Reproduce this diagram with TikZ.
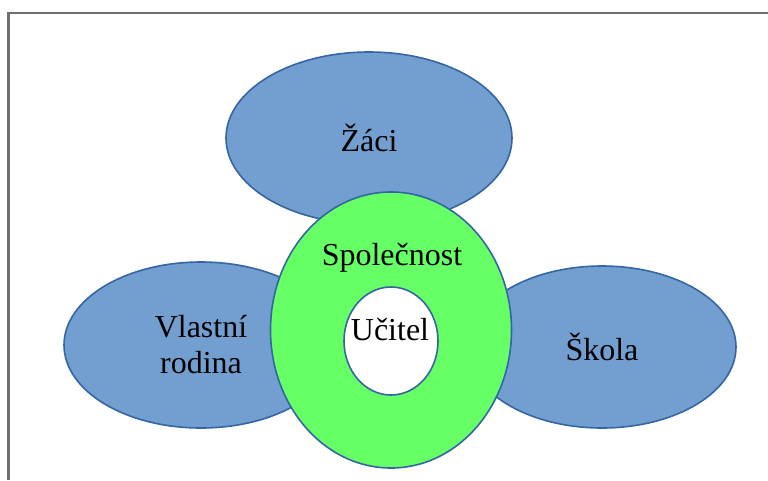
\documentclass[tikz,border=0pt]{standalone}
\usepackage{fontspec}
\setmainfont{Liberation Serif}
\usetikzlibrary{shapes.geometric}
\definecolor{bluefill}{RGB}{114,159,207}
\definecolor{blueedge}{RGB}{52,101,164}
\definecolor{greenfill}{RGB}{102,255,102}
\definecolor{framegray}{RGB}{110,110,110}
\tikzset{
  blob/.style={ellipse, draw=blueedge, line width=1.2pt, fill=bluefill, inner sep=0pt, font=\fontsize{24}{27}\selectfont, align=center},
  ring/.style={ellipse, draw=blueedge, line width=1.2pt, fill=greenfill, inner sep=0pt},
  hole/.style={ellipse, draw=blueedge, line width=1.2pt, fill=white, inner sep=0pt},
  lbl/.style={font=\fontsize{24}{27}\selectfont, inner sep=0pt}
}
\begin{document}
\begin{tikzpicture}[x=0.75pt,y=-0.75pt]
\useasboundingbox (0,0) rectangle (768,480);
\draw[framegray, line width=1.6pt] (768,13) -- (8.5,13) -- (8.5,480);
\node[blob, minimum width=286*0.75pt, minimum height=172*0.75pt] (zaci) at (369,138) {Žáci};
\node[blob, minimum width=274*0.75pt, minimum height=166*0.75pt] (rodina) at (201,345) {Vlastní\\rodina};
\node[blob, minimum width=268*0.75pt, minimum height=162*0.75pt] (skola) at (602,347) {Škola};
\node[ring, minimum width=241*0.75pt, minimum height=276*0.75pt] (spol) at (391,330) {};
\node[hole, minimum width=94*0.75pt, minimum height=108*0.75pt] (hole) at (391,341) {};
\node[lbl] (spoltext) at (392,258) {Společnost};
\node[lbl] (ucitel) at (390,330) {Učitel};
\end{tikzpicture}
\end{document}
